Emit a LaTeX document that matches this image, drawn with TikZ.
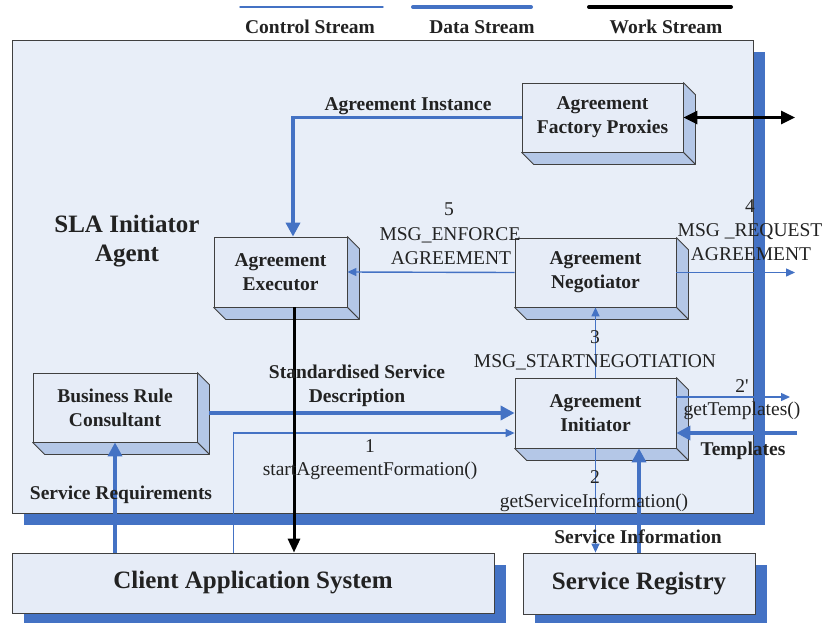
\documentclass[tikz,border=0pt]{standalone}
\usepackage{fontspec}
\setmainfont{Liberation Serif}
\usetikzlibrary{arrows.meta,calc,shadows}

\definecolor{panel}{HTML}{E8EEF8}
\definecolor{facefill}{HTML}{E6ECF7}
\definecolor{sidefill}{HTML}{B4C7E7}
\definecolor{streamblue}{HTML}{4472C4}
\definecolor{edgegray}{HTML}{404040}
\definecolor{inktext}{HTML}{222222}

\tikzset{
  lbl/.style={font=\fontsize{19.5}{24}\selectfont, text=inktext, inner sep=0pt, anchor=base},
  blbl/.style={lbl, font=\fontsize{19.5}{24}\selectfont\bfseries},
  biglbl/.style={lbl, font=\fontsize{25}{30}\selectfont\bfseries},
  box/.style={draw=edgegray, line width=0.8pt, fill=facefill, inner sep=0pt,
    align=center, text=inktext, font=\fontsize{19.5}{24}\selectfont\bfseries},
  flatbox/.style={box, font=\fontsize{25}{30}\selectfont\bfseries,
    general shadow={fill=streamblue, shadow xshift=12pt, shadow yshift=-12pt}},
  side/.style={draw=edgegray, line width=0.8pt, fill=sidefill, line join=round},
  ctrl/.style={draw=streamblue, line width=1.4pt},
  data/.style={draw=streamblue, line width=3.6pt},
  work/.style={draw=black, line width=3pt},
  ctip/.style={-{Triangle[length=9pt,width=8pt]}},
  dtip/.style={-{Triangle[length=14pt,width=14pt]}},
  wtip/.style={-{Triangle[length=14pt,width=12pt]}},
}

\begin{document}
\begin{tikzpicture}[x=1pt,y=-1pt]
\useasboundingbox (0,0) rectangle (823,622);

% legend
\draw[ctrl, line cap=round] (240,7) -- (383,7);
\draw[data, line width=4pt, line cap=round] (413,7) -- (531,7);
\draw[work, line width=4pt, line cap=round] (589,7) -- (731,7);
\node[blbl] (lgc) at (310,33) {Control Stream};
\node[blbl] (lgd) at (482,33) {Data Stream};
\node[blbl] (lgw) at (666,33) {Work Stream};

% agent frame with its shadow
\node[draw=edgegray, line width=0.8pt, fill=panel, inner sep=0pt,
      minimum width=741pt, minimum height=473pt,
      general shadow={fill=streamblue, shadow xshift=12pt, shadow yshift=-12pt}]
      (frame) at (382.5,276.5) {};
\node[biglbl] (agt1) at (127,232) {SLA Initiator};
\node[biglbl] (agt2) at (127,261) {Agent};

% components inside the agent
\node[box, minimum width=161pt, minimum height=69pt] (afp) at (602.5,117.5) {Agreement\\Factory Proxies};
\node[box, minimum width=133pt, minimum height=70pt] (exe) at (280.5,272) {Agreement\\Executor};
\node[box, minimum width=161pt, minimum height=69pt] (neg) at (595.5,272.5) {Agreement\\Negotiator};
\node[box, minimum width=164pt, minimum height=69pt] (brc) at (115,407.5) {Business Rule\\Consultant};
\node[box, minimum width=161pt, minimum height=70pt] (ini) at (595.5,413) {Agreement\\Initiator};

% depth faces of the component blocks
\foreach \n in {afp,exe,neg,brc,ini} {
  \filldraw[side] (\n.north east) -- ++(12,12) -- ([shift={(12,12)}]\n.south east) -- (\n.south east) -- cycle;
  \filldraw[side] (\n.south west) -- ++(12,12) -- ([shift={(12,12)}]\n.south east) -- (\n.south east) -- cycle;
}

% external systems
\node[flatbox, minimum width=482pt, minimum height=60pt] (cli) at (253,583) {Client Application System};
\node[flatbox, minimum width=232pt, minimum height=61pt] (sr) at (639,583.5) {Service Registry};

% free ends of connectors
\coordinate (extOut) at (795,117.5);
\coordinate (reqOut) at (795,272.5);
\coordinate (tplOut) at (790,397);
\coordinate (tplIn) at (797,433);
\coordinate (exeIn) at ([xshift=12.5pt]exe.north);
\coordinate (wkTop) at ([xshift=13.5pt]exe.south);
\coordinate (brcR) at ([xshift=12pt]brc.east);
\coordinate (cliA) at ([xshift=222pt]cli.north west);
\coordinate (iniLow) at ([yshift=-20pt]ini.west);
\coordinate (iniHi) at ([yshift=16pt]ini.east);

% data streams
\draw[data, dtip] (afp.west) -| (exeIn);
\draw[data, dtip] (brcR |- ini.west) -- (ini.west);
\draw[data, dtip] (brc.south |- cli.north) -- (brc.south);
\draw[data, dtip] (sr.north) -- (sr.north |- ini.south);
\draw[data, dtip] (tplIn) -- (tplIn -| ini.east);

% control streams
\draw[ctrl, ctip] (neg.west) -- (exe.east);
\draw[ctrl, ctip] (neg.east) -- (reqOut);
\draw[ctrl, ctip] (ini.north) -- (neg.south);
\draw[ctrl, ctip] (cliA) |- (iniLow);
\draw[ctrl, ctip] (ini.south) -- (ini.south |- sr.north);
\draw[ctrl, ctip] (iniHi) -- (tplOut);

% work streams
\draw[work, {Triangle[length=14pt,width=13pt]}-{Triangle[length=14pt,width=13pt]}] (afp.east) -- (extOut);
\draw[work, wtip] (wkTop) -- (wkTop |- cli.north);

% connector labels
\node[blbl] (lInst) at (408,110) {Agreement Instance};
\node[lbl] (l5) at (449,215) {5};
\node[lbl] (l5a) at (450,240) {MSG\_ENFORCE};
\node[lbl] (l5b) at (451,264) {AGREEMENT};
\node[lbl] (l4) at (750,212) {4};
\node[lbl] (l4a) at (750,236) {MSG \_REQUEST};
\node[lbl] (l4b) at (751,260) {AGREEMENT};
\node[lbl] (l3) at (595,343) {3};
\node[lbl] (l3a) at (595,367) {MSG\_STARTNEGOTIATION};
\node[blbl] (lStd1) at (357,378) {Standardised Service};
\node[blbl] (lStd2) at (357,402) {Description};
\node[lbl] (l1) at (370,452) {1};
\node[lbl] (l1a) at (370,475) {startAgreementFormation()};
\node[lbl] (l2p) at (742,392) {2\textquotesingle};
\node[lbl] (l2pa) at (742,415) {getTemplates()};
\node[blbl] (lTpl) at (743,455) {Templates};
\node[lbl] (l2) at (595,483) {2};
\node[lbl] (l2a) at (594,507) {getServiceInformation()};
\node[blbl] (lSrv) at (638,543) {Service Information};
\node[blbl] (lReq) at (121,499) {Service Requirements};
\end{tikzpicture}
\end{document}
